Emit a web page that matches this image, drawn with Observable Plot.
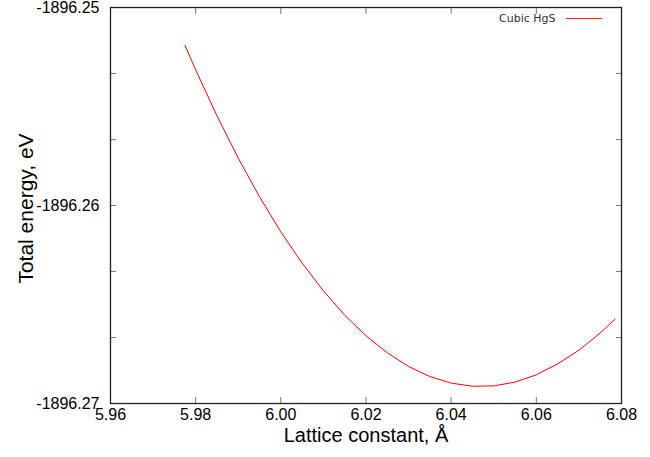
<!DOCTYPE html>
<html><head><meta charset="utf-8">
<script src="https://cdn.jsdelivr.net/npm/d3@7"></script>
<script src="https://cdn.jsdelivr.net/npm/@observablehq/plot@0.6"></script>
<style>
body{margin:0;background:#fff;}
#wrap{position:relative;width:650px;height:457px;}
#legend{position:absolute;top:12px;left:499px;font:11px "DejaVu Sans",sans-serif;line-height:13px;color:#333;display:flex;align-items:center;white-space:nowrap;}
#legend .swatch{display:inline-block;width:36px;height:0;border-top:1px solid #ff2020;margin-left:11px;}
</style></head><body>
<div id="wrap"><div id="legend"><span id="lg"></span><span class="swatch"></span></div></div>
<script>
const seriesName = "Cubic HgS";
const xLabel = "Lattice constant, Å";
const yLabel = "Total energy, eV";
const latticeConstant = [5.9775, 5.98, 5.985, 5.99, 5.995, 6.00, 6.005, 6.01, 6.015, 6.02, 6.025, 6.03, 6.035, 6.04, 6.045, 6.05, 6.055, 6.06, 6.065, 6.07, 6.075, 6.0785];
const totalEnergy = [-1896.25192, -1896.25315, -1896.25547, -1896.25761, -1896.25956, -1896.26133, -1896.26291, -1896.26431, -1896.26554, -1896.26658, -1896.26744, -1896.26813, -1896.26864, -1896.26897, -1896.26913, -1896.26911, -1896.26892, -1896.26855, -1896.26800, -1896.26731, -1896.26644, -1896.26574];
const xTicks = [5.96, 5.98, 6.00, 6.02, 6.04, 6.06, 6.08];
const xTopTicks = [5.98, 6.00, 6.02, 6.04, 6.06];
const yLabelTicks = [-1896.27, -1896.26, -1896.25];
const yMinorTicks = [-1896.26667, -1896.26333, -1896.26, -1896.25667, -1896.25333];

const data = latticeConstant.map((x, i) => ({x, y: totalEnergy[i]}));
const tickColor = "#777";
const noText = () => "";

const chart = Plot.plot({
  width: 650, height: 457,
  marginLeft: 110, marginRight: 29, marginTop: 7, marginBottom: 54,
  style: {fontFamily: "'Liberation Sans', Arial, Helvetica, sans-serif", fontSize: "16px", color: "#000", background: "#fff"},
  x: {domain: [5.96, 6.08]},
  y: {domain: [-1896.27, -1896.25]},
  marks: [
    Plot.axisX(xTicks, {anchor: "bottom", tickSize: -6, tickFormat: noText, label: null, stroke: tickColor}),
    Plot.axisX(xTopTicks, {anchor: "top", tickSize: -6, tickFormat: noText, label: null, stroke: tickColor}),
    Plot.axisX(xTicks, {anchor: "bottom", tickSize: 0, tickPadding: 5, tickFormat: d => d.toFixed(2), label: null, fontSize: 16, fill: "#000"}),
    Plot.axisY(yMinorTicks, {anchor: "left", tickSize: -6, tickFormat: noText, label: null, stroke: tickColor}),
    Plot.axisY(yMinorTicks, {anchor: "right", tickSize: -6, tickFormat: noText, label: null, stroke: tickColor}),
    Plot.axisY(yLabelTicks, {anchor: "left", tickSize: 0, tickPadding: 11, tickFormat: d => d.toFixed(2), label: null, fontSize: 16, fill: "#000"}),
    Plot.text([xLabel], {frameAnchor: "bottom", dy: 38, fontSize: 20, fill: "#000"}),
    Plot.text([yLabel], {frameAnchor: "left", dx: -84, dy: 3, rotate: -90, textAnchor: "middle", fontSize: 21, fill: "#000"}),
    Plot.line(data, {x: "x", y: "y", stroke: "#ff0000", strokeWidth: 1}),
    Plot.frame({stroke: "#222", strokeWidth: 1.3})
  ]
});
document.getElementById("wrap").prepend(chart);
document.getElementById("lg").textContent = seriesName;
</script>
</body></html>
